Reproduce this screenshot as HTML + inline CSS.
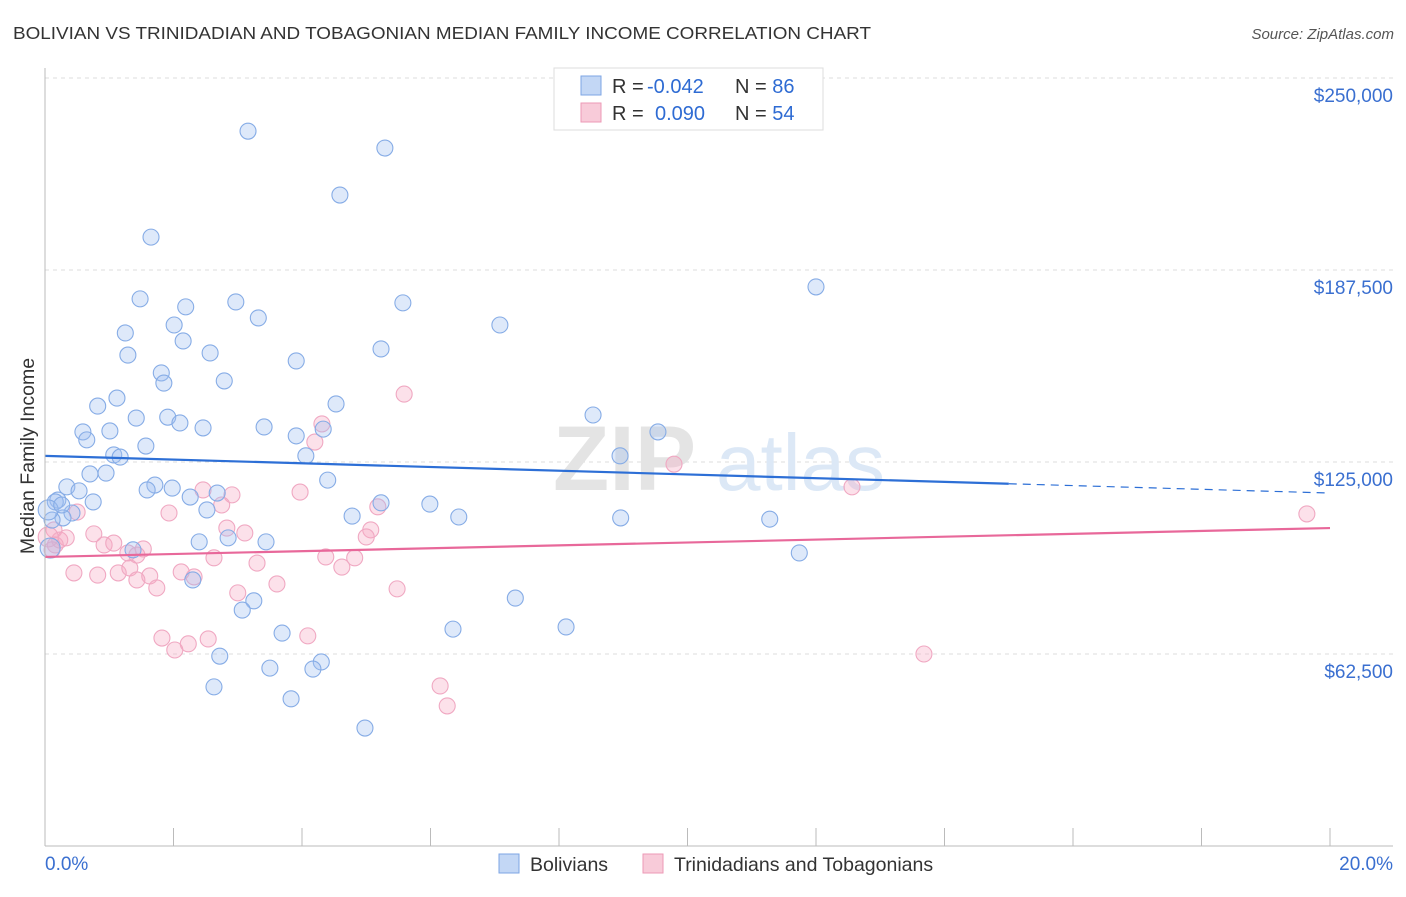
<!DOCTYPE html>
<html><head><meta charset="utf-8"><style>
body{margin:0;background:#fff;font-family:"Liberation Sans",sans-serif;}
svg text{font-family:"Liberation Sans",sans-serif;}
</style></head><body>
<svg id="chart" width="1406" height="892" viewBox="0 0 1406 892">
<text x="13" y="39" font-size="17.5" fill="#333" textLength="858" lengthAdjust="spacingAndGlyphs">BOLIVIAN VS TRINIDADIAN AND TOBAGONIAN MEDIAN FAMILY INCOME CORRELATION CHART</text>
<text x="1394" y="39" font-size="15" fill="#555" font-style="italic" text-anchor="end">Source: ZipAtlas.com</text>
<text transform="translate(34,456) rotate(-90)" font-size="19.5" fill="#333" text-anchor="middle">Median Family Income</text>
<g id="grid"></g>
<g id="watermark">
<text x="553" y="490" font-size="92" fill="#e4e4e4" font-family="Liberation Serif" font-weight="bold">ZIP</text>
<text x="716" y="490" font-size="80" fill="#dce8f6">atlas</text>
</g>
<g id="points"></g>
<g id="lines"></g>
<g id="axes"></g>
<g>
<rect x="554" y="68" width="269" height="62" fill="#fff" stroke="#ddd"/>
<rect x="581" y="76" width="20" height="19" fill="#c3d7f5" stroke="#7ea6e4"/>
<rect x="581" y="103" width="20" height="19" fill="#f8cbd9" stroke="#ec9ab6"/>
<text x="612" y="93" font-size="20" fill="#333">R = <tspan fill="#2e6bd3" x="647">-0.042</tspan><tspan x="735">N = </tspan><tspan fill="#2e6bd3">86</tspan></text>
<text x="612" y="120" font-size="20" fill="#333">R = <tspan fill="#2e6bd3" x="655">0.090</tspan><tspan x="735">N = </tspan><tspan fill="#2e6bd3">54</tspan></text>
</g>
<g>
<rect x="499" y="854" width="20" height="19" fill="#c3d7f5" stroke="#7ea6e4"/>
<text x="530" y="871" font-size="19.5" fill="#333">Bolivians</text>
<rect x="643" y="854" width="20" height="19" fill="#f8cbd9" stroke="#ec9ab6"/>
<text x="674" y="871" font-size="19.5" fill="#333">Trinidadians and Tobagonians</text>
</g>
</svg>
<script>
const yTicks=[62500,125000,187500,250000];
const yTickLabels=["$62,500","$125,000","$187,500","$250,000"];
const xTicks=[0,2,4,6,8,10,12,14,16,18,20];
const xEndLabels=["0.0%","20.0%"];
const bolX=[3.16,5.29,4.59,1.65,12.00,1.48,2.19,2.97,5.57,2.01,3.32,7.08,1.25,2.15,1.29,2.57,3.91,5.23,1.81,1.85,2.79,1.12,0.82,4.53,1.42,1.91,2.10,2.46,3.41,8.53,0.59,1.01,0.65,3.91,4.33,1.57,9.54,1.07,1.17,4.06,8.95,0.70,0.95,4.40,0.34,0.53,1.71,1.98,1.59,2.68,2.26,0.75,0.20,5.23,5.99,0.42,2.52,0.28,4.78,6.44,8.96,11.28,0.11,2.85,2.40,3.44,1.37,11.74,0.08,2.30,3.25,3.07,7.32,3.69,8.11,6.35,2.72,4.30,3.50,4.17,2.63,3.83,4.98,0.16,0.05,0.26];
const bolY=[232.7,227.2,211.9,198.2,182.0,178.1,175.5,177.1,176.8,169.6,171.9,169.6,167.0,164.4,159.8,160.5,157.9,161.8,154.0,150.7,151.4,145.8,143.2,143.9,139.3,139.6,137.7,136.1,136.4,140.3,134.8,135.1,132.2,133.5,135.7,130.2,134.8,127.3,126.6,127.0,127.0,121.1,121.4,119.1,116.9,115.6,117.5,116.5,115.9,114.9,113.6,112.0,112.6,111.7,111.3,108.4,109.4,106.8,107.4,107.1,106.8,106.4,106.1,100.3,99.0,99.0,96.4,95.4,97.0,86.6,79.8,76.8,80.7,69.3,71.3,70.6,61.8,59.9,57.9,57.6,51.8,47.9,38.4,112.0,109.4,111.0];
const triX=[5.59,4.31,4.20,9.79,3.97,12.56,2.46,2.91,1.93,2.75,5.18,19.64,2.83,3.11,5.07,5.00,0.76,0.50,0.92,1.07,1.53,0.14,0.23,1.29,1.43,3.30,2.63,4.37,4.82,4.62,0.45,0.82,1.14,1.32,1.63,2.12,2.32,1.43,1.74,3.61,3.00,5.48,1.82,2.02,2.23,2.54,4.09,13.68,6.15,6.26,0.05,0.16,0.11,0.33];
const triY=[147.1,137.4,131.5,124.3,115.2,116.9,115.9,114.3,108.4,111.0,110.4,108.1,103.5,101.9,102.9,100.6,101.6,108.7,98.0,98.6,96.7,102.9,99.6,95.4,94.7,92.1,93.8,94.1,93.8,90.8,88.9,88.2,88.9,90.5,87.9,89.2,87.6,86.6,84.0,85.3,82.4,83.7,67.7,63.8,65.8,67.4,68.4,62.5,52.1,45.6,100.6,98.0,96.4,100.3];
const bolTrend=[127.0,114.9];
const bolSolidEnd=15.0;
const triTrend=[94.1,103.5];

const NS="http://www.w3.org/2000/svg";
const xs=v=>45+v/20*1285;
const ys=v=>846-v/62.5*192;
function mk(tag,attrs,parent){const e=document.createElementNS(NS,tag);for(const k in attrs)e.setAttribute(k,attrs[k]);parent.appendChild(e);return e;}
const grid=document.getElementById('grid'),axes=document.getElementById('axes'),pts=document.getElementById('points'),lines=document.getElementById('lines');
yTicks.forEach((t,i)=>{
  const y=ys(t/1000);
  const l=mk('line',{x1:45,x2:1393,y1:y,y2:y,stroke:'#ddd','stroke-dasharray':'4,4'},grid);
  
  
  const tx=mk('text',{x:1393,y:y+24,'font-size':19,fill:'#3a6fd0','text-anchor':'end'},axes);
  tx.textContent=yTickLabels[i];
  
  
});
mk('line',{x1:45,x2:45,y1:68,y2:846,stroke:'#bbb'},axes);
mk('line',{x1:45,x2:1393,y1:846,y2:846,stroke:'#bbb'},axes);
xTicks.forEach(t=>{
  const tk=mk('line',{x1:xs(t),x2:xs(t),y1:828,y2:846,stroke:'#bbb'},axes);
  
  
});
const xl0=mk('text',{x:45,y:870,'font-size':19,fill:'#3a6fd0'},axes);xl0.textContent=xEndLabels[0];


const xl1=mk('text',{x:1393,y:870,'font-size':19,fill:'#3a6fd0','text-anchor':'end'},axes);xl1.textContent=xEndLabels[1];


function dots(X,Y,fill,stroke,name){
  X.forEach((x,i)=>{
    const c=mk('circle',{cx:xs(x),cy:ys(Y[i]),r:(x<0.1?10:8),fill:fill,stroke:stroke,'stroke-width':1.1},pts);
    
    
  });
}
dots(triX,triY,'rgba(245,170,195,0.35)','#f0a8c2','trinidadian-point');
dots(bolX,bolY,'rgba(160,192,240,0.35)','#86ace6','bolivian-point');
const bAt=x=>bolTrend[0]+(bolTrend[1]-bolTrend[0])*x/20;
const bl=mk('line',{x1:xs(0),y1:ys(bAt(0)),x2:xs(bolSolidEnd),y2:ys(bAt(bolSolidEnd)),stroke:'#2d6fd6','stroke-width':2.2},lines);


const bd=mk('line',{x1:xs(bolSolidEnd),y1:ys(bAt(bolSolidEnd)),x2:xs(20),y2:ys(bAt(20)),stroke:'#2d6fd6','stroke-width':1.2,'stroke-dasharray':'8,6'},lines);


const tl=mk('line',{x1:xs(0),y1:ys(triTrend[0]),x2:xs(20),y2:ys(triTrend[1]),stroke:'#e8689a','stroke-width':2.2},lines);


</script>
</body></html>
